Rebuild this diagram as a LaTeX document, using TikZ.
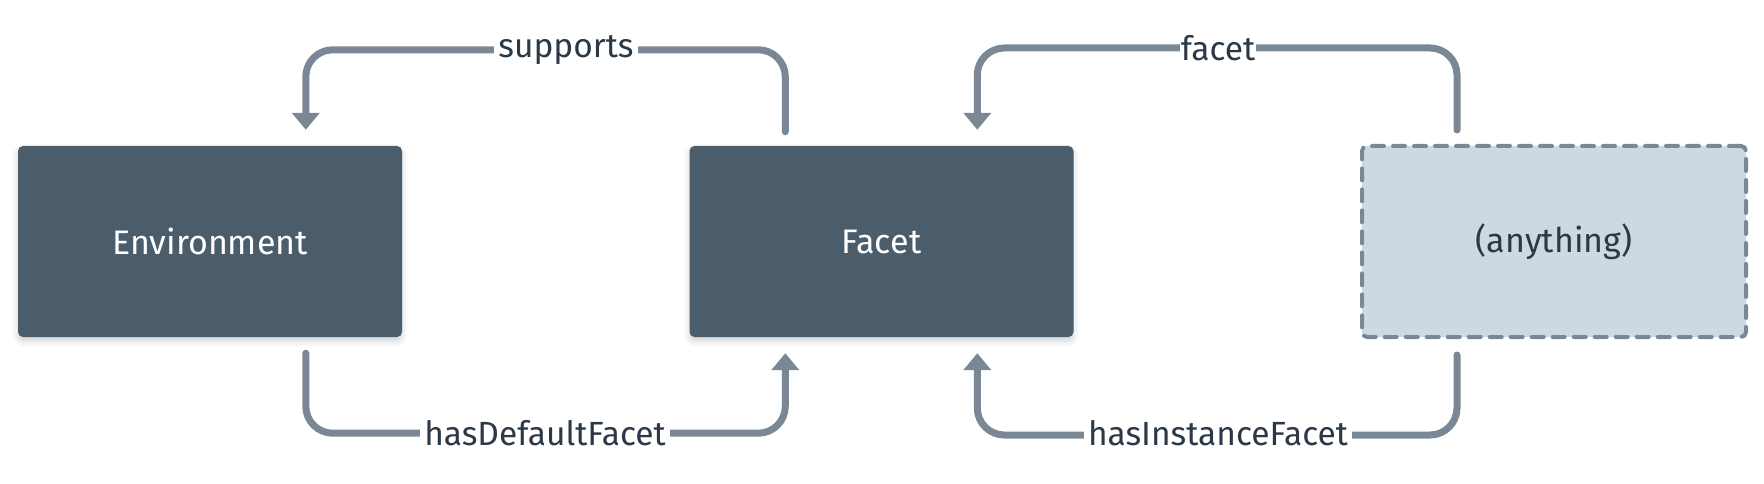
\documentclass[tikz,border=0pt]{standalone}
\usepackage{fontspec}
\setmainfont{Fira Sans}
\usetikzlibrary{arrows.meta,shadows.blur}
\definecolor{boxdark}{HTML}{4B5C6B}
\definecolor{linegray}{HTML}{7A8896}
\definecolor{lbltext}{HTML}{2A3847}
\definecolor{boxlight}{HTML}{CDD8E0}
\tikzset{
  box/.style={rectangle, rounded corners=5pt, minimum width=384pt, minimum height=191pt,
    inner sep=0pt, font=\fontsize{34}{40}\selectfont},
  darkbox/.style={box, fill=boxdark, text=white,
    blur shadow={shadow xshift=0pt, shadow yshift=-4pt, shadow opacity=18, shadow blur steps=6, shadow blur radius=6pt}},
  lightbox/.style={box, fill=boxlight, text=lbltext, draw=linegray, line width=4pt,
    dash pattern=on 12pt off 9pt, line cap=round},
  conn/.style={draw=linegray, line width=7pt, line cap=round, rounded corners=27pt,
    -{Triangle[width=27pt,length=17pt]}},
  lbl/.style={fill=white, text=lbltext, inner sep=4pt, font=\fontsize{33.5}{40}\selectfont}
}
\begin{document}
\begin{tikzpicture}[x=1pt,y=-1pt]
\useasboundingbox (0,0) rectangle (1764,484);
\node[darkbox] (env) at (210,241.5) {Environment};
\node[darkbox] (facet) at (881.5,241.5) {Facet};
\node[lightbox] (any) at (1554,241.5) {(anything)};
% supports
\draw[conn] ([xshift=96pt,yshift=14pt]facet.north west) -- ++(0,-82)
  -| ([xshift=288pt,yshift=16pt]env.north west);
\node[lbl] (lsup) at (566,50) {supports};
% facet
\draw[conn] ([xshift=97pt,yshift=14pt]any.north west) -- ++(0,-82)
  -| ([xshift=288pt,yshift=16pt]facet.north west);
\node[lbl, inner sep=0.5pt] (lfac) at (1218,48) {facet};
% hasDefaultFacet
\draw[conn] ([xshift=288pt,yshift=-16pt]env.south west) -- ++(0,80)
  -| ([xshift=96pt,yshift=-16pt]facet.south west);
\node[lbl] (ldef) at (545,433) {hasDefaultFacet};
% hasInstanceFacet
\draw[conn] ([xshift=97pt,yshift=-16pt]any.south west) -- ++(0,80)
  -| ([xshift=288pt,yshift=-16pt]facet.south west);
\node[lbl] (linst) at (1218,433) {hasInstanceFacet};
\end{tikzpicture}
\end{document}
